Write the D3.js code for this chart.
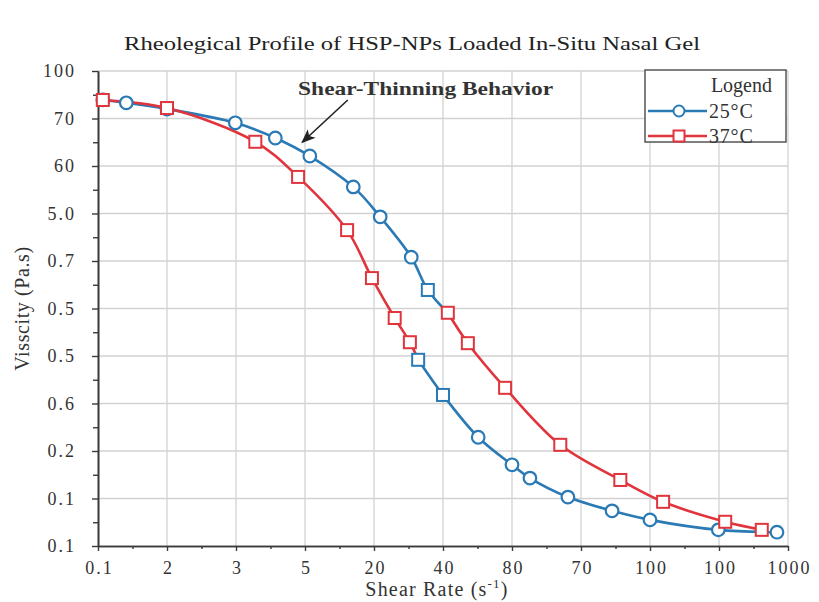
<!DOCTYPE html>
<html>
<head>
<meta charset="utf-8">
<script src="https://cdn.jsdelivr.net/npm/d3@7"></script>
<style>
  html, body { margin: 0; padding: 0; background: #fff; }
  svg { display: block; }
</style>
</head>
<body>
<svg id="chart" width="819" height="602"></svg>
<script>
// ---------------- data ----------------
const xTickLabels = ["0.1", "2", "3", "5", "20", "40", "80", "70", "100", "100", "1000"];
const yTickLabels = ["0.1", "0.1", "0.2", "0.6", "0.5", "0.5", "0.7", "5.0", "60", "70", "100"]; // bottom -> top
const seriesNames = ["25°C", "37°C"];

// positions are in axis-tick units (tick i sits at value i)
// 25°C – upper run (right-hand curve) and lower run (left-hand curve)
const rate25Upper = [0.07, 0.41, 1.00, 1.99, 2.57, 3.07, 3.70, 4.09, 4.54, 4.78];
const visc25Upper = [9.39, 9.33, 9.20, 8.91, 8.59, 8.21, 7.56, 6.93, 6.08, 5.39];
const rate25Lower = [4.64, 5.00, 5.51, 6.00, 6.26, 6.81, 7.45, 8.00, 8.99, 9.84];
const visc25Lower = [3.92, 3.18, 2.29, 1.71, 1.43, 1.03, 0.74, 0.55, 0.34, 0.29];
// 37°C – upper run (left-hand curve) and lower run (right-hand curve)
const rate37Upper = [0.07, 1.00, 2.28, 2.90, 3.61, 3.97, 4.30, 4.52];
const visc37Upper = [9.39, 9.22, 8.51, 7.77, 6.65, 5.64, 4.80, 4.29];
const rate37Lower = [5.07, 5.36, 5.90, 6.70, 7.57, 8.19, 9.09, 9.62];
const visc37Lower = [4.91, 4.27, 3.33, 2.13, 1.39, 0.93, 0.51, 0.34];

const titleText = "Rheolegical Profile of HSP-NPs Loaded In-Situ Nasal Gel";
const annotationText = "Shear-Thinning Behavior";
const xTitle = "Shear Rate (s";
const yTitle = "Visscity (Pa.s)";
const legendTitle = "Logend";

// ---------------- drawing ----------------
const svg = d3.select("#chart");
const serif = "'Liberation Serif', 'DejaVu Serif', serif";
const BLUE = "#2a7ab5", RED = "#e0353d";
const x = d3.scaleLinear().domain([0, 10]).range([98, 788]);
const y = d3.scaleLinear().domain([0, 10]).range([546, 71]);
const ticks = d3.range(0, 11);
const minor = d3.range(0.5, 10, 1);

// grid
const grid = svg.append("g").attr("stroke", "#d2d2d2").attr("stroke-width", 1.3);
grid.selectAll(".gv").data(ticks.slice(1)).join("line")
  .attr("x1", d => x(d)).attr("x2", d => x(d)).attr("y1", y(10)).attr("y2", y(0));
grid.selectAll(".gh").data(ticks.slice(1)).join("line")
  .attr("y1", d => y(d)).attr("y2", d => y(d)).attr("x1", x(0)).attr("x2", x(10));

// axes
const xAxis = svg.append("g").attr("transform", `translate(0,${y(0)})`)
  .call(d3.axisBottom(x).tickValues(ticks).tickFormat(i => xTickLabels[i]).tickSize(5).tickSizeOuter(0).tickPadding(10));
const xMinor = svg.append("g").attr("transform", `translate(0,${y(0)})`)
  .call(d3.axisBottom(x).tickValues(minor).tickFormat("").tickSize(3).tickSizeOuter(0));
const yAxis = svg.append("g").attr("transform", `translate(${x(0)},0)`)
  .call(d3.axisLeft(y).tickValues(ticks).tickFormat(i => yTickLabels[i]).tickSize(6).tickSizeOuter(0).tickPadding(16));
const yMinor = svg.append("g").attr("transform", `translate(${x(0)},0)`)
  .call(d3.axisLeft(y).tickValues(minor).tickFormat("").tickSize(5).tickSizeOuter(0));
[xAxis, xMinor, yAxis, yMinor].forEach(g => {
  g.select(".domain").attr("stroke", "#3a3a3a").attr("stroke-width", 1.6);
  g.selectAll(".tick line").attr("stroke", "#3a3a3a").attr("stroke-width", 1.4);
  g.selectAll(".tick text").attr("font-family", serif).attr("font-size", 18)
    .attr("letter-spacing", 2).attr("fill", "#333");
});
xAxis.selectAll(".tick text").attr("dx", 1);

// lines
const zip = (a, b) => a.map((v, i) => [v, b[i]]);
const up25 = zip(rate25Upper, visc25Upper), lo25 = zip(rate25Lower, visc25Lower);
const up37 = zip(rate37Upper, visc37Upper), lo37 = zip(rate37Lower, visc37Lower);
const line = d3.line().x(d => x(d[0])).y(d => y(d[1])).curve(d3.curveCatmullRom.alpha(0.5));

const lines = svg.append("g").attr("fill", "none").attr("stroke-width", 2.6).attr("stroke-linejoin", "round");
lines.append("path").attr("d", line(up25.concat([lo37[0]]))).attr("stroke", BLUE);
lines.append("path").attr("d", line(lo25)).attr("stroke", BLUE);
lines.append("path").attr("d", line(up37.concat([lo25[0]]))).attr("stroke", RED);
lines.append("path").attr("d", line(lo37)).attr("stroke", RED);

// markers
function circleMark(g, pts, color) {
  g.selectAll(null).data(pts).join("circle")
    .attr("cx", d => x(d[0])).attr("cy", d => y(d[1])).attr("r", 6.3)
    .attr("fill", "#fff").attr("stroke", color).attr("stroke-width", 2.2);
}
function squareMark(g, pts, color) {
  const s = 12;
  g.selectAll(null).data(pts).join("rect")
    .attr("x", d => x(d[0]) - s / 2).attr("y", d => y(d[1]) - s / 2)
    .attr("width", s).attr("height", s)
    .attr("fill", "#fff").attr("stroke", color).attr("stroke-width", 2);
}
const marks = svg.append("g");
// 25°C: circles, except the three transition points drawn as squares in the reference
circleMark(marks.append("g"), up25.slice(0, -1).concat(lo25.slice(2)), BLUE);
squareMark(marks.append("g"), [up25[up25.length - 1], lo25[0], lo25[1]], BLUE);
squareMark(marks.append("g"), up37.concat(lo37), RED);

// annotation
svg.append("text").text(annotationText)
  .attr("x", x(2.9)).attr("y", y(9.49))
  .attr("font-family", serif).attr("font-size", 18).attr("font-weight", "bold").attr("fill", "#333")
  .attr("textLength", 255).attr("lengthAdjust", "spacingAndGlyphs");
svg.append("defs").append("marker").attr("id", "arr")
  .attr("viewBox", "0 0 10 10").attr("refX", 9).attr("refY", 5)
  .attr("markerWidth", 9).attr("markerHeight", 9).attr("orient", "auto")
  .append("path").attr("d", "M0,1 L10,5 L0,9 L2.5,5 Z").attr("fill", "#222");
svg.append("line")
  .attr("x1", x(3.62)).attr("y1", y(9.39))
  .attr("x2", x(2.96)).attr("y2", y(8.5))
  .attr("stroke", "#222").attr("stroke-width", 1.6).attr("marker-end", "url(#arr)");

// title
svg.append("text").text(titleText)
  .attr("x", 412).attr("y", 50).attr("text-anchor", "middle")
  .attr("font-family", serif).attr("font-size", 18).attr("fill", "#222")
  .attr("textLength", 576).attr("lengthAdjust", "spacingAndGlyphs");

// axis titles
const xt = svg.append("text").attr("x", 437).attr("y", 596).attr("text-anchor", "middle")
  .attr("font-family", serif).attr("font-size", 20).attr("letter-spacing", 1.2).attr("fill", "#333");
xt.append("tspan").text(xTitle);
xt.append("tspan").text("-1").attr("font-size", 13).attr("dy", -8);
xt.append("tspan").text(")").attr("dy", 8);

svg.append("text").text(yTitle)
  .attr("transform", `translate(29,${(y(0) + y(10)) / 2}) rotate(-90)`)
  .attr("text-anchor", "middle")
  .attr("font-family", serif).attr("font-size", 20).attr("letter-spacing", 0.6).attr("fill", "#333");

// legend
const lg = svg.append("g").attr("transform", "translate(645,70)");
lg.append("rect").attr("width", 141).attr("height", 72)
  .attr("fill", "#fff").attr("stroke", "#555").attr("stroke-width", 1.5);
lg.append("text").text(legendTitle).attr("x", 127).attr("y", 22).attr("text-anchor", "end")
  .attr("font-family", serif).attr("font-size", 20).attr("fill", "#333");
const colors = [BLUE, RED];
seriesNames.forEach((name, i) => {
  const yy = 41 + i * 25;
  lg.append("line").attr("x1", 3).attr("x2", 62).attr("y1", yy).attr("y2", yy)
    .attr("stroke", colors[i]).attr("stroke-width", 2.4);
  if (i === 0) {
    lg.append("circle").attr("cx", 34).attr("cy", yy).attr("r", 5.5)
      .attr("fill", "#fff").attr("stroke", colors[i]).attr("stroke-width", 2);
  } else {
    lg.append("rect").attr("x", 28.5).attr("y", yy - 5.5).attr("width", 11).attr("height", 11)
      .attr("fill", "#fff").attr("stroke", colors[i]).attr("stroke-width", 2);
  }
  lg.append("text").text(name).attr("x", 64).attr("y", yy + 7)
    .attr("font-family", serif).attr("font-size", 20).attr("letter-spacing", 0.8).attr("fill", "#333");
});
</script>
</body>
</html>
